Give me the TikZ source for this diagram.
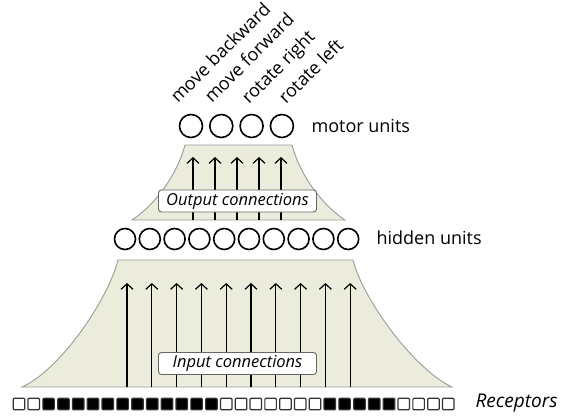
\documentclass[tikz,border=0pt]{standalone}
\usepackage{fontspec}
\setmainfont{Open Sans}
\usetikzlibrary{arrows.meta}

\definecolor{trapfill}{HTML}{ECECDC}
\definecolor{trapline}{HTML}{9A9A9A}

\begin{document}
\begin{tikzpicture}[x=1pt, y=-1pt, font=\fontsize{18}{20}\selectfont]

	\useasboundingbox (0,0) rectangle (562,416);

	\tikzset{
		unit/.style={draw, circle, line width=1.6pt, inner sep=0pt},
		cell/.style={draw=black!80, line width=1.2pt, rounded corners=1pt, minimum size=11.5pt, inner sep=0pt},
		conbox/.style={draw=black!60, fill=white, line width=0.9pt, rounded corners=3pt, minimum width=158pt, minimum height=22pt, inner sep=0pt, font=\fontsize{16.5}{18}\selectfont\itshape},
		link/.style={-{Straight Barb[length=5.5pt, width=12pt, line width=1.2pt]}, line width=1.2pt},
		trap/.style={fill=trapfill, draw=trapline, line width=0.9pt}
	}

	% input connections
	\draw[trap]
		(118,260) -- (353,260) .. controls (363,300) and (415,370) .. (452,387) -- (22,387) .. controls (60,370) and (108,300) .. cycle;
	\def\pitch{24.8}
	\foreach \i in {0,...,9}
		\draw[link] (127+\pitch*\i, 387) -- (127+\pitch*\i, 283);
	\node[conbox] (inbox) at (237.5,363.5) {Input connections};

	% output connections
	\draw[trap]
		(185,145) -- (292,145) .. controls (300,175) and (322,205) .. (345,220) -- (132,220) .. controls (155,205) and (177,175) .. cycle;
	\foreach \i in {0,...,4}
		\draw[link] (193+22*\i, 220) -- (193+22*\i, 157);
	\node[conbox] (outbox) at (237.5,201) {Output connections};

	% receptors
	\foreach \i/\c in {0/white,1/white,2/black,3/black,4/black,5/black,6/black,7/black,8/black,9/black,10/black,11/black,12/black,13/black,14/white,15/white,16/white,17/white,18/white,19/white,20/white,21/black,22/black,23/black,24/black,25/black,26/white,27/white,28/white,29/white}
		\node[cell, fill=\c] (r\i) at (19+14.8*\i, 404) {};
	\node[anchor=west, font=\fontsize{19}{21}\selectfont\itshape] (receptors) at (472,403) {Receptors};

	% hidden units
	\foreach \i in {0,...,9}
		\node[unit, minimum size=21pt] (h\i) at (125+\pitch*\i, 239) {};
	\node[anchor=west] (hidden) at (373,238) {hidden units};

	% motor units
	\foreach \i in {0,...,3}
		\node[unit, minimum size=23pt] (m\i) at (191+30.3*\i, 126) {};
	\node[anchor=west] (motor) at (308,126) {motor units};

	\node[anchor=base west, rotate=45, inner sep=0pt] at (178,104) {move backward};
	\node[anchor=base west, rotate=45, inner sep=0pt] at (212,104) {move forward};
	\node[anchor=base west, rotate=45, inner sep=0pt] at (249,105) {rotate right};
	\node[anchor=base west, rotate=45, inner sep=0pt] at (286,105) {rotate left};

\end{tikzpicture}
\end{document}
